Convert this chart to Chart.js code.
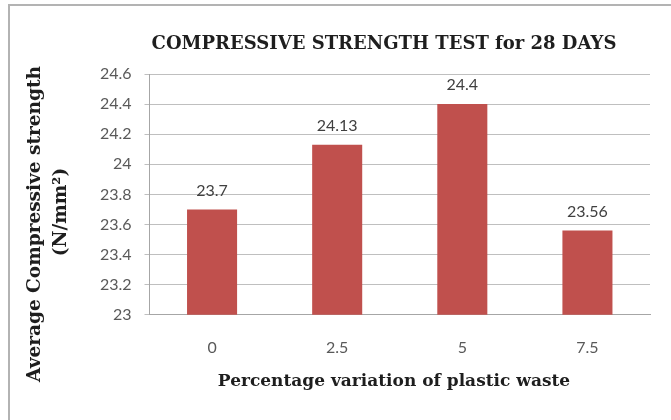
<!DOCTYPE html>
<html>
<head>
<meta charset="utf-8">
<title>Compressive strength test for 28 days</title>
<script src="https://cdn.jsdelivr.net/npm/chart.js@4"></script>
<style>
  html, body { margin: 0; padding: 0; background: #fff; }
  #wrap { position: relative; width: 671px; height: 420px; overflow: hidden; }
  #frame {
    position: absolute; left: 8px; top: 4px; right: 0; bottom: 0;
    border-top: 2px solid #b3b3b3; border-left: 2px solid #b3b3b3;
  }
  canvas { position: absolute; left: 0; top: 0; }
</style>
</head>
<body>
<div id="wrap">
  <div id="frame"></div>
  <canvas id="chart" width="671" height="420"></canvas>
</div>
<script>
// Mix proportions (% plastic waste) and measured 28-day strength
const categories = ['0', '2.5', '5', '7.5'];
const strength = [23.7, 24.13, 24.4, 23.56];

// Value axis range and tick spacing
const yMin = 23;
const yMax = 24.6;
const yStep = 0.2;

// Text
const chartTitle = 'COMPRESSIVE STRENGTH TEST for 28 DAYS';
const xTitle = 'Percentage variation of plastic waste';
const yTitleLines = ['Average Compressive strength', '(N/mm²)'];

const serif = "'DejaVu Serif', serif";
const textDark = '#1e1e1e';
const tickGray = '#595959';

// Chart heading and axis titles, placed around the plot area
const titlesPlugin = {
  id: 'titles',
  afterDraw(chart) {
    const ctx = chart.ctx;
    ctx.save();
    ctx.fillStyle = textDark;
    ctx.textAlign = 'center';
    ctx.textBaseline = 'middle';

    ctx.font = `bold 18px ${serif}`;
    ctx.fillText(chartTitle, 384, 44);

    ctx.font = `bold 17px ${serif}`;
    ctx.fillText(xTitle, 394, 382);

    ctx.font = `bold 18.5px ${serif}`;
    const centers = [{ x: 35, y: 224 }, { x: 61, y: 212 }];
    yTitleLines.forEach((line, i) => {
      ctx.save();
      ctx.translate(centers[i].x, centers[i].y);
      ctx.rotate(-Math.PI / 2);
      ctx.fillText(line, 0, 0);
      ctx.restore();
    });
    ctx.restore();
  }
};

// Value labels above each bar
const valueLabelPlugin = {
  id: 'valueLabels',
  afterDatasetsDraw(chart) {
    const ctx = chart.ctx;
    const meta = chart.getDatasetMeta(0);
    ctx.save();
    ctx.fillStyle = '#404040';
    ctx.font = '16px Lato, sans-serif';
    ctx.textAlign = 'center';
    ctx.textBaseline = 'middle';
    meta.data.forEach((bar, i) => {
      ctx.fillText(String(chart.data.datasets[0].data[i]), bar.x, bar.y - 19);
    });
    ctx.restore();
  }
};

new Chart(document.getElementById('chart'), {
  type: 'bar',
  data: {
    labels: categories,
    datasets: [{
      data: strength,
      backgroundColor: '#C0504D',
      borderWidth: 0,
      categoryPercentage: 1.0,
      barPercentage: 0.4
    }]
  },
  options: {
    responsive: false,
    animation: false,
    devicePixelRatio: 1,
    layout: { padding: { left: 0, right: 21, top: 74, bottom: 40 } },
    plugins: {
      legend: { display: false },
      tooltip: { enabled: false },
      title: { display: false }
    },
    scales: {
      x: {
        grid: { display: false, drawTicks: false },
        border: { display: true, color: '#a6a6a6' },
        ticks: {
          color: tickGray,
          padding: 23,
          font: { family: 'Lato, sans-serif', size: 16 }
        }
      },
      y: {
        min: yMin,
        max: yMax,
        grid: { color: '#bfbfbf', tickLength: 5 },
        border: { color: '#a6a6a6' },
        ticks: {
          stepSize: yStep,
          color: tickGray,
          padding: 13,
          font: { family: 'Lato, sans-serif', size: 16 },
          callback: v => String(Math.round(v * 10) / 10)
        },
        afterFit(scale) { scale.width = 149.5; }
      }
    }
  },
  plugins: [titlesPlugin, valueLabelPlugin]
});
</script>
</body>
</html>
